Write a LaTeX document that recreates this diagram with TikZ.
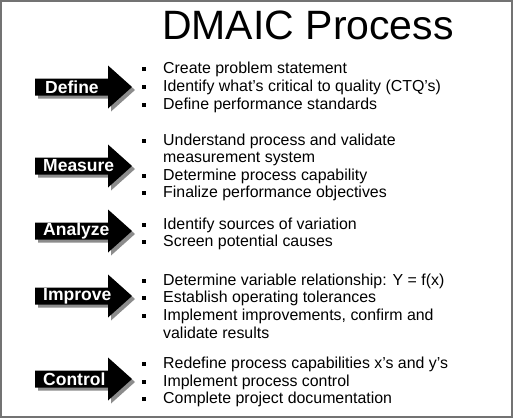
\documentclass[tikz,border=0pt]{standalone}
\usepackage{fontspec}
\setmainfont{Liberation Sans}
\newcommand\procarrow[4]{% name, cy, label
  \fill[arrowshadow] (38,#2-5.5) -- (111,#2-5.5) -- (111,#2-18.5) -- (135,#2+3) -- (111,#2+24.5) -- (111,#2+11.5) -- (38,#2+11.5) -- cycle;
  \fill[arrowfill] (35,#2-8.5) -- (108,#2-8.5) -- (108,#2-21.5) -- (132,#2) -- (108,#2+21.5) -- (108,#2+8.5) -- (35,#2+8.5) -- cycle;
  \node[steplabel] (#1) at (#4,#2) {#3};
}
\newcommand\bitem[3]{% row, name, text
  \node[bulletsq] (#2b) at (144,#1+1) {};
  \node[itemtext] (#2) at (163,#1+5) {#3};
}
\newcommand\contline[3]{% row, name, text (no bullet)
  \node[itemtext] (#2) at (163,#1+5) {#3};
}
\begin{document}
\begin{tikzpicture}[x=1pt,y=-1pt,
  frame/.style={draw=black!55, line width=2pt},
  arrowshadow/.style={fill=black!45},
  arrowfill/.style={fill=black},
  steplabel/.style={anchor=west, text=white, font=\fontsize{17.5}{17.5}\selectfont\bfseries, inner sep=0pt},
  itemtext/.style={anchor=base west, font=\fontsize{15.9}{18}\selectfont, inner sep=0pt},
  bulletsq/.style={fill=black, minimum size=4.6pt, inner sep=0pt}]
\useasboundingbox (0,0) rectangle (513,418);
\fill[white] (0,0) rectangle (513,418);
\draw[frame] (1,1) rectangle (512,417);
\node[anchor=base, font=\fontsize{41}{41}\selectfont, inner sep=0pt] (title) at (308,39) {DMAIC Process};

\procarrow{define}{87}{Define}{45}
\bitem{68}{d1}{Create problem statement}
\bitem{86}{d2}{Identify what’s critical to quality (CTQ’s)}
\bitem{104}{d3}{Define performance standards}

\procarrow{measure}{166}{Measure}{43}
\bitem{140}{m1}{Understand process and validate}
\contline{157}{m1b}{measurement system}
\bitem{175}{m2}{Determine process capability}
\bitem{192}{m3}{Finalize performance objectives}

\procarrow{analyze}{231}{Analyze}{43}
\bitem{224}{a1}{Identify sources of variation}
\bitem{241}{a2}{Screen potential causes}

\procarrow{improve}{296}{Improve}{43}
\bitem{280}{i1}{Determine variable relationship: Y = f(x)}
\bitem{297}{i2}{Establish operating tolerances}
\bitem{315}{i3}{Implement improvements, confirm and}
\contline{333}{i3b}{validate results}

\procarrow{control}{379}{Control}{43}
\bitem{363}{c1}{Redefine process capabilities x’s and y’s}
\bitem{381}{c2}{Implement process control}
\bitem{398}{c3}{Complete project documentation}
\end{tikzpicture}
\end{document}
